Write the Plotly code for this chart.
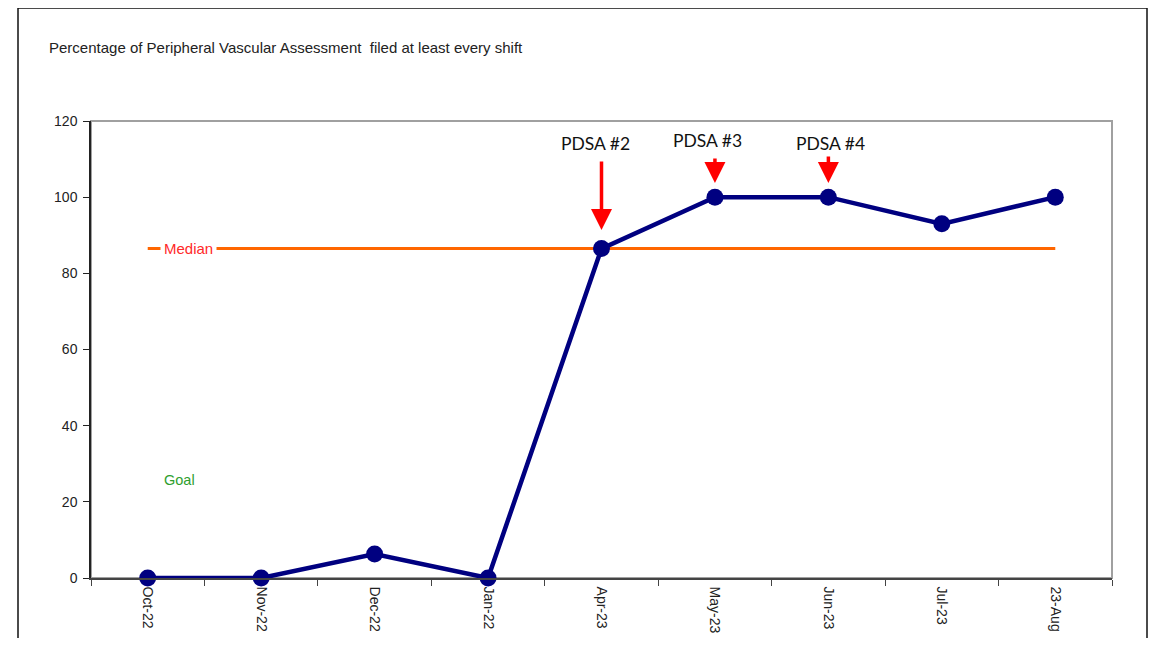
import plotly.graph_objects as go

months = ["Oct-22", "Nov-22", "Dec-22", "Jan-22", "Apr-23", "May-23", "Jun-23", "Jul-23", "23-Aug"]
pct_values = [0, 0, 6.3, 0, 86.5, 100, 100, 93.0, 100]
median_value = 86.5
y_ticks = [0, 20, 40, 60, 80, 100, 120]

pdsa_labels = ["PDSA #2", "PDSA #3", "PDSA #4"]
pdsa_month_idx = [4, 5, 6]
pdsa_arrow_tip = [91.4, 103.7, 103.7]
pdsa_arrow_len = [70, 26, 28]
pdsa_text_x = [3.95, 4.93, 6.02]
pdsa_text_y = [114.2, 114.8, 114.2]

title_text = "Percentage of Peripheral Vascular Assessment  filed at least every shift"

OFF = 8  # page body margin
W, H = 1156 - 2 * OFF, 646 - 2 * OFF
# target screen coordinates of the plot area
SL, SR, ST, SB = 91, 1112, 121, 578
L, R, T, B = SL - OFF, SR - OFF, ST - OFF, SB - OFF
pw, ph = R - L, B - T

def px(x):
    return (x - SL) / pw

def py(y):
    return (SB - y) / ph

fig = go.Figure()

# median line
fig.add_trace(go.Scatter(
    x=[months[0], months[-1]], y=[median_value, median_value],
    mode="lines", line=dict(color="#FF6600", width=3),
    hoverinfo="skip", showlegend=False, cliponaxis=False))

# data series
fig.add_trace(go.Scatter(
    x=months, y=pct_values, mode="lines+markers",
    line=dict(color="#000080", width=4.5),
    marker=dict(color="#000080", size=17),
    showlegend=False, cliponaxis=False))

annotations = []
annotations.append(dict(
    x=0.36, y=median_value, xref="x", yref="y", text="Median", showarrow=False,
    font=dict(family="Liberation Sans, Arial", size=15, color="#FF2A2A"),
    bgcolor="white", borderpad=3, xanchor="center", yanchor="middle"))
annotations.append(dict(
    x=0.28, y=25.7, xref="x", yref="y", text="Goal", showarrow=False,
    font=dict(family="Liberation Sans, Arial", size=14.5, color="#2E9E2E"),
    xanchor="center", yanchor="middle"))

for lab, mi, tip, ln, tx, ty in zip(pdsa_labels, pdsa_month_idx, pdsa_arrow_tip,
                                    pdsa_arrow_len, pdsa_text_x, pdsa_text_y):
    annotations.append(dict(
        x=mi, y=tip, xref="x", yref="y", text="", showarrow=True,
        ax=0, ay=-ln, arrowhead=2, arrowsize=1.2, arrowwidth=3.5,
        arrowcolor="#FF0000", standoff=0, startstandoff=0))
    annotations.append(dict(
        x=tx, y=ty, xref="x", yref="y", text=lab, showarrow=False,
        font=dict(family="Lato, Open Sans, sans-serif", size=17.5, color="#111111"),
        xanchor="center", yanchor="middle"))

annotations.append(dict(
    x=px(47), y=py(47), xref="paper", yref="paper", text=title_text,
    showarrow=False, xanchor="left", yanchor="middle",
    font=dict(family="Liberation Sans, Arial", size=15, color="#222222")))

shapes = [
    dict(type="rect", xref="paper", yref="paper",
         x0=px(18), x1=px(1147), y0=py(8), y1=py(670),
         line=dict(color="#111111", width=1.5), layer="below"),
    dict(type="rect", xref="paper", yref="paper",
         x0=0, x1=1, y0=0, y1=1,
         line=dict(color="#A0A0A0", width=2), layer="below"),
]

fig.update_layout(
    width=W, height=H,
    margin=dict(l=L, r=W - R, t=T, b=H - B, pad=0, autoexpand=False),
    paper_bgcolor="white", plot_bgcolor="white",
    showlegend=False,
    annotations=annotations, shapes=shapes,
    xaxis=dict(
        type="category", categoryorder="array", categoryarray=months,
        range=[-0.5, len(months) - 0.5], tickson="boundaries", automargin=False,
        ticks="outside", ticklen=6, tickcolor="#444444", tickwidth=1,
        showline=True, linecolor="#444444", linewidth=1.5,
        showgrid=False, zeroline=False, tickangle=90, ticklabelstandoff=4,
        tickfont=dict(family="Liberation Sans, Arial", size=14, color="#222222")),
    yaxis=dict(
        range=[0, 120], tickvals=y_ticks, ticks="outside", ticklen=6, automargin=False,
        tickcolor="#222222", showline=True, linecolor="#222222", linewidth=1.5,
        showgrid=False, zeroline=False, ticklabelstandoff=3,
        tickfont=dict(family="Liberation Sans, Arial", size=14, color="#222222")),
)

fig.write_html("out.html")
